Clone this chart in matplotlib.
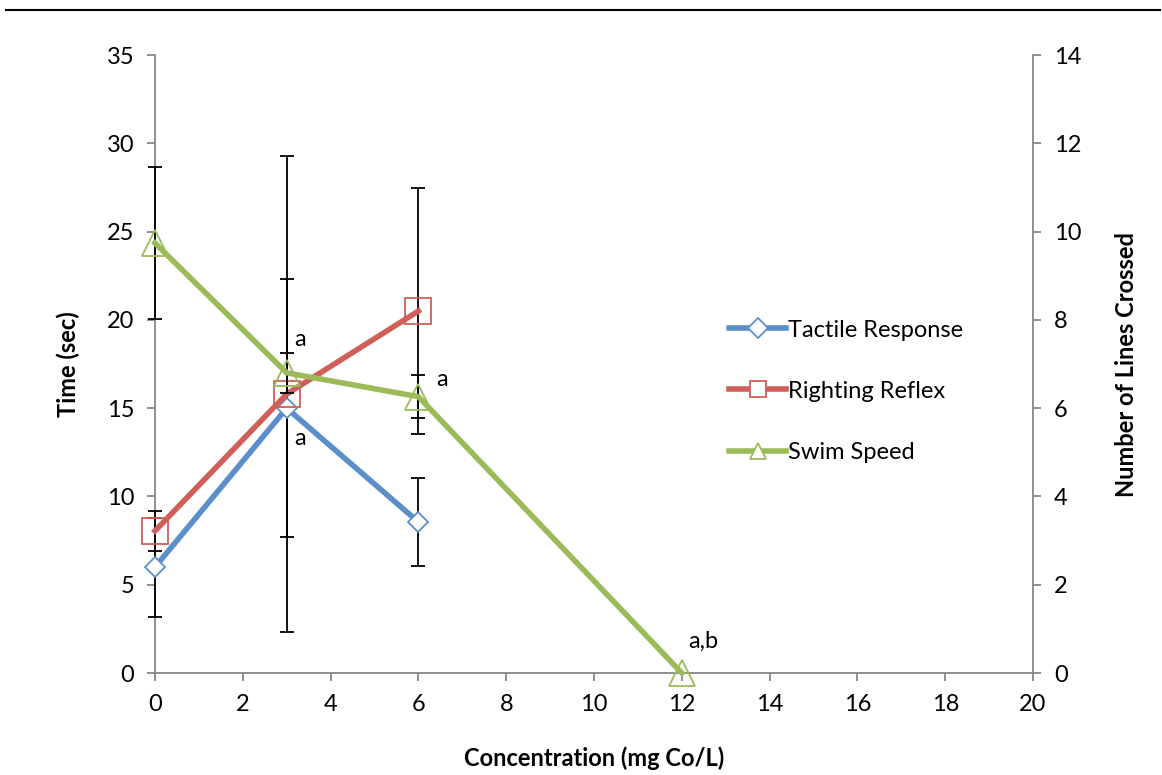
import matplotlib.pyplot as plt
from matplotlib.lines import Line2D
import numpy as np

plt.rcParams['font.family'] = ['Lato', 'DejaVu Sans']

# data
conc = [0, 3, 6]
tactile = [6.0, 15.0, 8.55]
tactile_err = [2.8, 7.3, 2.5]
righting = [8.05, 15.8, 20.5]
righting_err = [1.15, 13.5, 6.95]

swim_conc = [0, 3, 6, 12]
swim = [9.74, 6.8, 6.26, 0.0]
swim_err = [1.72, 0.46, 0.49, 0.0]

blue = '#5B8FC9'
red = '#CF5F58'
green = '#9BBB59'
grey = '#878787'
fs = 17

fig = plt.figure(figsize=(11.62, 7.75), dpi=100)
ax = fig.add_axes([0.1334, 0.1316, 0.7556, 0.7974])
ax2 = ax.twinx()

# error bars above the spines, lines on top of the bars
for vals, errs in ((tactile, tactile_err), (righting, righting_err)):
    eb = ax.errorbar(conc, vals, yerr=errs, fmt='none', ecolor='black',
                     elinewidth=1.3, capsize=5, capthick=1.3, zorder=3)
    for art in eb.lines[1] + eb.lines[2]:
        art.set_clip_on(False)
ax.plot(conc, tactile, color=blue, lw=4, marker='D', ms=10, mfc='white',
        mec=blue, mew=1.3, zorder=4, clip_on=False)
ax.plot(conc, righting, color=red, lw=4, marker='s', ms=19, mfc='none',
        mec=red, mew=1.3, zorder=4, clip_on=False)

eb = ax2.errorbar(swim_conc[:3], swim[:3], yerr=swim_err[:3], fmt='none', ecolor='black',
                  elinewidth=1.3, capsize=5, capthick=1.3, zorder=3)
for art in eb.lines[1] + eb.lines[2]:
    art.set_clip_on(False)
ax2.plot(swim_conc, swim, color=green, lw=4, marker='^', ms=19, mfc='none',
         mec=green, mew=1.3, zorder=4, clip_on=False)

ax.set_xlim(0, 20)
ax.set_ylim(0, 35)
ax2.set_ylim(0, 14)
ax.set_xticks(np.arange(0, 21, 2))
ax.set_yticks(np.arange(0, 36, 5))
ax2.set_yticks(np.arange(0, 15, 2))

ax.spines[['top', 'right']].set_visible(False)
ax2.spines[['top', 'left', 'bottom']].set_visible(False)
for a in (ax, ax2):
    for s in ('left', 'right', 'bottom'):
        a.spines[s].set_color(grey)
        a.spines[s].set_linewidth(1.3)
    a.tick_params(axis='both', direction='out', length=6, width=1.3, color=grey,
                  labelsize=fs, pad=9)

ax.set_xlabel('Concentration (mg Co/L)', fontsize=fs, fontweight='bold', labelpad=23)
ax.set_ylabel('Time (sec)', fontsize=fs, fontweight='bold', labelpad=19)
ax2.set_ylabel('Number of Lines Crossed', fontsize=fs, fontweight='bold', labelpad=24)

# significance letters
ax.text(3.3, 18.9, 'a', fontsize=fs, ha='center', va='center')
ax.text(3.3, 13.3, 'a', fontsize=fs, ha='center', va='center')
ax.text(6.55, 16.6, 'a', fontsize=fs, ha='center', va='center')
ax.text(12.5, 1.8, 'a,b', fontsize=fs, ha='center', va='center')

handles = [
    Line2D([], [], color=blue, lw=4, marker='D', ms=10, mfc='white', mec=blue, mew=1.3),
    Line2D([], [], color=red, lw=4, marker='s', ms=12, mfc='white', mec=red, mew=1.3),
    Line2D([], [], color=green, lw=4, marker='^', ms=12, mfc='white', mec=green, mew=1.3),
]
ax2.legend(handles, ['Tactile Response', 'Righting Reflex', 'Swim Speed'],
           loc='center left', bbox_to_anchor=(0.654, 0.456), frameon=False,
           fontsize=fs, handlelength=2.4, handletextpad=0.1, labelspacing=1.7,
           borderpad=0, borderaxespad=0)

# thin rule along the top of the picture
fig.add_artist(Line2D([0.005, 0.998], [0.987, 0.987], color='black', lw=1.5,
                      transform=fig.transFigure))

fig.savefig('out.png', dpi=100)
